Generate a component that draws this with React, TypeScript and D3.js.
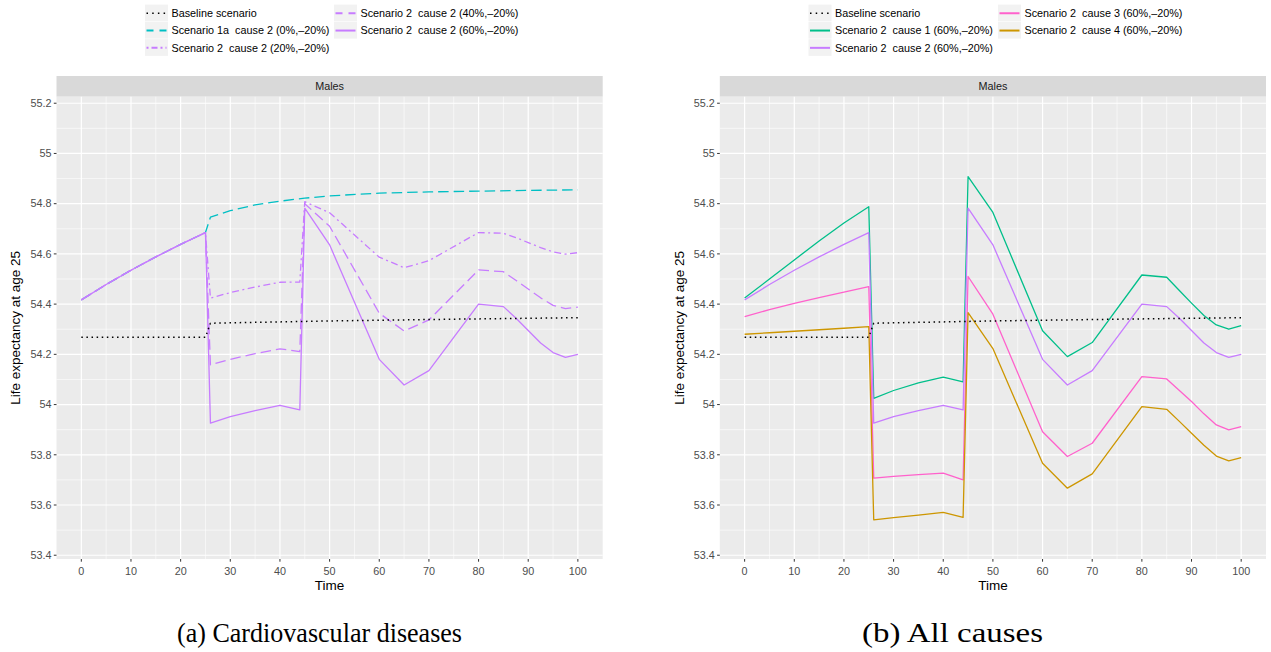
import React from "react";
import * as d3 from "d3";

// ---------- data ----------
const tPre = [0, 5, 10, 15, 20, 25];
const tPost = [26, 30, 35, 40, 44, 45, 50, 60, 65, 70, 80, 85, 87.5, 90, 92.5, 95, 97.5, 100];
const tBase = [0, 25, 26, 50, 75, 100];
const tTealPost = [26, 30, 35, 40, 45, 50, 60, 70, 80, 90, 100];

const baseline = [54.268, 54.268, 54.324, 54.333, 54.34, 54.346];

const preCause2 = [54.417, 54.478, 54.535, 54.588, 54.638, 54.685];
const preCause1 = [54.424, 54.5, 54.576, 54.651, 54.723, 54.788];
const preCause3 = [54.35, 54.378, 54.403, 54.426, 54.448, 54.47];
const preCause4 = [54.28, 54.286, 54.292, 54.298, 54.304, 54.31];

const scen1aPost = [54.746, 54.772, 54.795, 54.81, 54.822, 54.831, 54.842, 54.847, 54.85, 54.853, 54.855];
const c2p20Post = [54.424, 54.446, 54.468, 54.487, 54.488, 54.808, 54.764, 54.587, 54.545, 54.573, 54.685, 54.682, 54.665, 54.645, 54.625, 54.608, 54.599, 54.605];
const c2p40Post = [54.158, 54.18, 54.203, 54.222, 54.211, 54.8, 54.71, 54.364, 54.293, 54.337, 54.536, 54.529, 54.495, 54.46, 54.425, 54.395, 54.382, 54.388];
const c2p60Post = [53.926, 53.952, 53.976, 53.997, 53.979, 54.782, 54.636, 54.18, 54.078, 54.135, 54.4, 54.39, 54.345, 54.295, 54.245, 54.207, 54.188, 54.2];
const c1p60Post = [54.025, 54.056, 54.086, 54.109, 54.09, 54.908, 54.765, 54.294, 54.191, 54.247, 54.516, 54.507, 54.455, 54.404, 54.355, 54.317, 54.3, 54.314];
const c3p60Post = [53.707, 53.714, 53.721, 53.727, 53.7, 54.51, 54.36, 53.892, 53.793, 53.846, 54.111, 54.102, 54.057, 54.012, 53.963, 53.919, 53.899, 53.912];
const c4p60Post = [53.541, 53.55, 53.56, 53.571, 53.551, 54.366, 54.223, 53.766, 53.667, 53.724, 53.992, 53.981, 53.934, 53.886, 53.838, 53.795, 53.776, 53.789];

const xTicks = [0, 10, 20, 30, 40, 50, 60, 70, 80, 90, 100];
const yTicks = [53.4, 53.6, 53.8, 54, 54.2, 54.4, 54.6, 54.8, 55, 55.2];
const yTickLabels = ["53.4", "53.6", "53.8", "54", "54.2", "54.4", "54.6", "54.8", "55", "55.2"];

// ---------- styles ----------
const SANS = "'Liberation Sans', Arial, Helvetica, sans-serif";
const SERIF = "'Liberation Serif', 'DejaVu Serif', serif";
const DASH: Record<string, string> = {
  solid: "none",
  dotted: "1.5,3.6",
  dashed: "10.5,5",
  dotdash: "2,3.5,7,3.5",
};
const C_TEAL = "#00BFC4";
const C_PURPLE = "#C77CFF";
const C_GREEN = "#00BF8A";
const C_PINK = "#FF61CC";
const C_GOLD = "#CD9600";

type Series = { name: string; t: number[]; v: number[]; color: string; dash: string };

const cat = (a: number[], b: number[]) => a.concat(b);

const leftSeries: Series[] = [
  { name: "Baseline scenario", t: tBase, v: baseline, color: "#000000", dash: "dotted" },
  { name: "Scenario 1a  cause 2 (0%,\u201320%)", t: cat(tPre, tTealPost), v: cat(preCause2, scen1aPost), color: C_TEAL, dash: "dashed" },
  { name: "Scenario 2  cause 2 (20%,\u201320%)", t: cat(tPre, tPost), v: cat(preCause2, c2p20Post), color: C_PURPLE, dash: "dotdash" },
  { name: "Scenario 2  cause 2 (40%,\u201320%)", t: cat(tPre, tPost), v: cat(preCause2, c2p40Post), color: C_PURPLE, dash: "dashed" },
  { name: "Scenario 2  cause 2 (60%,\u201320%)", t: cat(tPre, tPost), v: cat(preCause2, c2p60Post), color: C_PURPLE, dash: "solid" },
];

const rightSeries: Series[] = [
  { name: "Baseline scenario", t: tBase, v: baseline, color: "#000000", dash: "dotted" },
  { name: "Scenario 2  cause 1 (60%,\u201320%)", t: cat(tPre, tPost), v: cat(preCause1, c1p60Post), color: C_GREEN, dash: "solid" },
  { name: "Scenario 2  cause 2 (60%,\u201320%)", t: cat(tPre, tPost), v: cat(preCause2, c2p60Post), color: C_PURPLE, dash: "solid" },
  { name: "Scenario 2  cause 3 (60%,\u201320%)", t: cat(tPre, tPost), v: cat(preCause3, c3p60Post), color: C_PINK, dash: "solid" },
  { name: "Scenario 2  cause 4 (60%,\u201320%)", t: cat(tPre, tPost), v: cat(preCause4, c4p60Post), color: C_GOLD, dash: "solid" },
];

function Panel({ x0, x1, series, caption, capX, capW, legendX, legendX2 }: {
  x0: number; x1: number; series: Series[]; caption: string; capX: number; capW: number; legendX: number; legendX2: number;
}) {
  const top = 96.7, bottom = 559, stripTop = 76;
  const xs = d3.scaleLinear().domain([-5, 105]).range([x0, x1]);
  const ys = d3.scaleLinear().domain([53.385, 55.226]).range([bottom, top]);
  const line = d3.line<[number, number]>().x((d) => xs(d[0])).y((d) => ys(d[1]));
  const xMinor = d3.range(5, 100, 10);
  const yMinor = d3.range(53.5, 55.21, 0.2);
  const cx = (x0 + x1) / 2;
  const cy = (top + bottom) / 2;
  const keyW = 23, keyH = 17.3, row0 = 4.6;
  const legendPos = (i: number) => {
    const col = i < 3 ? 0 : 1;
    const row = i < 3 ? i : i - 3;
    return { x: col === 0 ? legendX : legendX2, y: row0 + row * keyH };
  };
  const ordered = [...series.slice(1), series[0]];
  return (
    <g>
      {series.map((s, i) => {
        const p = legendPos(i);
        return (
          <g key={"lg" + i}>
            <rect x={p.x} y={p.y} width={keyW} height={keyH - 0.6} fill="#F2F2F2" />
            <line x1={p.x + 1.5} x2={p.x + keyW - 1.5} y1={p.y + keyH / 2} y2={p.y + keyH / 2}
              stroke={s.color} strokeWidth={s.dash === "dotted" ? 1.5 : 2}
              strokeDasharray={s.dash === "dotted" ? "1.5,4.2" : s.dash === "dashed" ? "7,6" : s.dash === "dotdash" ? "2,3,6,3" : "none"} />
            <text x={p.x + keyW + 3.5} y={p.y + keyH / 2} dy="0.35em" fontSize={10.8} fontFamily={SANS} fill="#000" style={{ whiteSpace: "pre" }}>{s.name}</text>
          </g>
        );
      })}
      <rect x={x0} y={stripTop} width={x1 - x0} height={top - stripTop} fill="#D9D9D9" />
      <text x={cx} y={(stripTop + top) / 2} dy="0.35em" textAnchor="middle" fontSize={10.8} fontFamily={SANS} fill="#1A1A1A">Males</text>
      <rect x={x0} y={top} width={x1 - x0} height={bottom - top} fill="#EBEBEB" />
      {yMinor.map((v) => (
        <line key={"ym" + v} x1={x0} x2={x1} y1={ys(v)} y2={ys(v)} stroke="#fff" strokeWidth={0.6} />
      ))}
      {xMinor.map((v) => (
        <line key={"xm" + v} x1={xs(v)} x2={xs(v)} y1={top} y2={bottom} stroke="#fff" strokeWidth={0.6} />
      ))}
      {yTicks.map((v) => (
        <line key={"yM" + v} x1={x0} x2={x1} y1={ys(v)} y2={ys(v)} stroke="#fff" strokeWidth={1.2} />
      ))}
      {xTicks.map((v) => (
        <line key={"xM" + v} x1={xs(v)} x2={xs(v)} y1={top} y2={bottom} stroke="#fff" strokeWidth={1.2} />
      ))}
      <g>
        {ordered.map((s, i) => (
          <path key={"s" + i} d={line(s.t.map((t, j) => [t, s.v[j]] as [number, number])) || ""}
            fill="none" stroke={s.color} strokeWidth={s.dash === "dotted" ? 1.5 : 1.3}
            strokeDasharray={DASH[s.dash]} strokeLinejoin="round" />
        ))}
      </g>
      {yTicks.map((v, i) => (
        <g key={"yt" + v}>
          <line x1={x0 - 2.7} x2={x0} y1={ys(v)} y2={ys(v)} stroke="#333" strokeWidth={1} />
          <text x={x0 - 5} y={ys(v)} dy="0.35em" textAnchor="end" fontSize={10.8} fontFamily={SANS} fill="#4D4D4D">{yTickLabels[i]}</text>
        </g>
      ))}
      {xTicks.map((v) => (
        <g key={"xt" + v}>
          <line x1={xs(v)} x2={xs(v)} y1={bottom} y2={bottom + 2.7} stroke="#333" strokeWidth={1} />
          <text x={xs(v)} y={bottom + 12} dy="0.35em" textAnchor="middle" fontSize={10.8} fontFamily={SANS} fill="#4D4D4D">{v}</text>
        </g>
      ))}
      <text x={cx} y={585} dy="0.35em" textAnchor="middle" fontSize={13.5} fontFamily={SANS} fill="#000">Time</text>
      <text transform={`translate(${x0 - 41},${cy}) rotate(-90)`} dy="0.35em" textAnchor="middle" fontSize={13.5} fontFamily={SANS} fill="#000">Life expectancy at age 25</text>
      <text x={capX - capW / 2} y={642} fontSize={27} fontFamily={SERIF} fill="#000" textLength={capW} lengthAdjust="spacingAndGlyphs">{caption}</text>
    </g>
  );
}

export default function App() {
  return (
    <svg width={1271} height={652} style={{ position: "absolute", left: 0, top: 0, background: "#fff" }}>
      <rect width={1271} height={652} fill="#fff" />
      <Panel x0={56.5} x1={602.7} series={leftSeries} caption="(a) Cardiovascular diseases" capX={319.5} capW={285} legendX={145} legendX2={334} />
      <Panel x0={719.8} x1={1266} series={rightSeries} caption="(b) All causes" capX={952.5} capW={181} legendX={808.5} legendX2={998} />
    </svg>
  );
}
